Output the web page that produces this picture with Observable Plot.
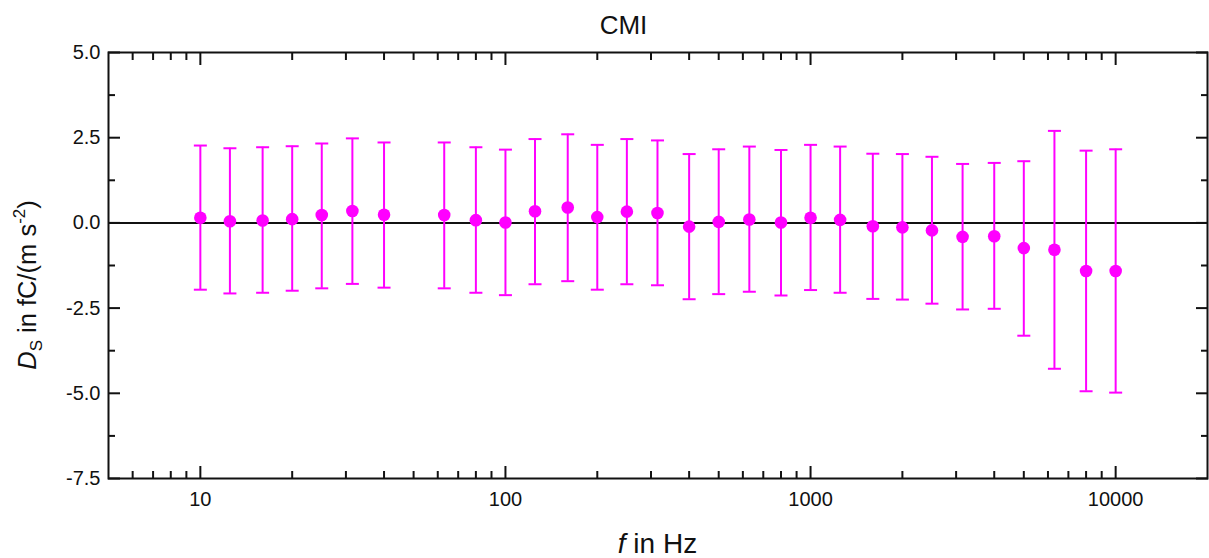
<!DOCTYPE html>
<html>
<head>
<meta charset="utf-8">
<script src="https://cdn.jsdelivr.net/npm/d3@7"></script>
<script src="https://cdn.jsdelivr.net/npm/@observablehq/plot@0.6"></script>
<style>
  body { margin: 0; background: #fff; font-family: "Liberation Sans", Arial, sans-serif; }
  #wrap { width: 1209px; height: 558px; overflow: hidden; background: #fff; }
  #title { box-sizing: border-box; width: 1209px; height: 44px; padding-top: 12px; padding-left: 38px;
           text-align: center; font-size: 26px; line-height: 26px; color: #111; }
  #chart svg { display: block; }
</style>
</head>
<body>
<div id="wrap">
  <div id="title"></div>
  <div id="chart"></div>
</div>
<script>
const titleText = "CMI";
const freq  = [10, 12.5, 16, 20, 25, 31.5, 40, 63, 80, 100, 125, 160, 200, 250, 315, 400, 500, 630, 800,
               1000, 1250, 1600, 2000, 2500, 3150, 4000, 5000, 6300, 8000, 10000];
const value = [0.15, 0.05, 0.07, 0.11, 0.23, 0.35, 0.24, 0.23, 0.08, 0.01, 0.34, 0.45, 0.17, 0.33, 0.29, -0.11, 0.03, 0.10, 0.01,
               0.15, 0.09, -0.10, -0.13, -0.22, -0.41, -0.39, -0.74, -0.79, -1.41, -1.41];
const upper = [2.27, 2.19, 2.22, 2.25, 2.33, 2.48, 2.36, 2.36, 2.22, 2.15, 2.46, 2.60, 2.29, 2.46, 2.42, 2.02, 2.16, 2.24, 2.14,
               2.29, 2.24, 2.03, 2.02, 1.94, 1.73, 1.76, 1.81, 2.70, 2.12, 2.16];
const lower = [-1.96, -2.07, -2.05, -1.99, -1.92, -1.79, -1.90, -1.92, -2.05, -2.12, -1.80, -1.71, -1.96, -1.80, -1.83, -2.24, -2.09, -2.02, -2.13,
               -1.97, -2.05, -2.23, -2.25, -2.37, -2.54, -2.52, -3.31, -4.28, -4.94, -4.98];
const xMajorTicks = [10, 100, 1000, 10000];
const xMinorTicks = [6, 7, 8, 9, 20, 30, 40, 50, 60, 70, 80, 90, 200, 300, 400, 500, 600, 700, 800, 900,
                     2000, 3000, 4000, 5000, 6000, 7000, 8000, 9000];
const yMajorTicks = [-7.5, -5, -2.5, 0, 2.5, 5];
const yMinorTicks = [-6.25, -3.75, -1.25, 1.25, 3.75];
const xDomain = [5, 20000];
const yDomain = [-7.5, 5];
const xTitle = ["f", " in Hz"];
const yTitle = ["D", "S", " in fC/(m s", "-2", ")"];

document.getElementById("title").textContent = titleText;

const data = freq.map((f, i) => ({f, v: value[i], lo: lower[i], hi: upper[i]}));
const mag = "#ff00ff";
const ink = "#111";
const cap = { draw(ctx, size) { const r = Math.sqrt(size / Math.PI); ctx.moveTo(-r, 0); ctx.lineTo(r, 0); } };

const W = 1209, H = 514, mL = 108, mR = 2, mT = 8, mB = 80;

const plot = Plot.plot({
  width: W, height: H,
  marginLeft: mL, marginRight: mR, marginTop: mT, marginBottom: mB,
  style: { fontFamily: '"Liberation Sans", Arial, sans-serif', fontSize: "20px", color: ink, background: "#fff", overflow: "visible" },
  x: { type: "log", domain: xDomain },
  y: { domain: yDomain },
  marks: [
    Plot.ruleY([0], { stroke: ink, strokeWidth: 2 }),
    Plot.ruleX(data, { x: "f", y1: "lo", y2: "hi", stroke: mag, strokeWidth: 2 }),
    Plot.dot(data, { x: "f", y: "hi", symbol: cap, r: 6.5, stroke: mag, strokeWidth: 2 }),
    Plot.dot(data, { x: "f", y: "lo", symbol: cap, r: 6.5, stroke: mag, strokeWidth: 2 }),
    Plot.dot(data, { x: "f", y: "v", r: 6.3, fill: mag, stroke: null }),
    Plot.axisX(xMajorTicks, { anchor: "bottom", tickSize: -12, text: null, label: null, strokeWidth: 2, stroke: ink }),
    Plot.axisX(xMinorTicks, { anchor: "bottom", tickSize: -7, text: null, label: null, strokeWidth: 2, stroke: ink }),
    Plot.axisX(xMajorTicks, { anchor: "top", tickSize: -12, text: null, label: null, strokeWidth: 2, stroke: ink }),
    Plot.axisX(xMinorTicks, { anchor: "top", tickSize: -7, text: null, label: null, strokeWidth: 2, stroke: ink }),
    Plot.axisX(xMajorTicks, { anchor: "bottom", tickSize: 0, tickPadding: 13, label: null, fontSize: 20, fill: ink, tickFormat: d => String(d) }),
    Plot.axisY(yMajorTicks, { anchor: "left", tickSize: -12, text: null, label: null, strokeWidth: 2, stroke: ink }),
    Plot.axisY(yMinorTicks, { anchor: "left", tickSize: -7, text: null, label: null, strokeWidth: 2, stroke: ink }),
    Plot.axisY(yMajorTicks, { anchor: "right", tickSize: -12, text: null, label: null, strokeWidth: 2, stroke: ink }),
    Plot.axisY(yMinorTicks, { anchor: "right", tickSize: -7, text: null, label: null, strokeWidth: 2, stroke: ink }),
    Plot.axisY(yMajorTicks, { anchor: "left", tickSize: 0, tickPadding: 8, label: null, fontSize: 20, fill: ink, tickFormat: d => d.toFixed(1) }),
    Plot.frame({ stroke: ink, strokeWidth: 2 })
  ]
});

const svg = d3.select(plot);
const cx = mL + (W - mL - mR) / 2;
const cy = mT + (H - mT - mB) / 2;

const xt = svg.append("text")
  .attr("x", cx).attr("y", 509)
  .attr("text-anchor", "middle")
  .attr("font-size", 28).attr("fill", ink);
xt.append("tspan").attr("font-style", "italic").text(xTitle[0]);
xt.append("tspan").text(xTitle[1]);

const yt = svg.append("text")
  .attr("transform", `translate(36,${cy + 20}) rotate(-90)`)
  .attr("text-anchor", "middle")
  .attr("font-size", 25.5).attr("fill", ink);
yt.append("tspan").attr("font-style", "italic").text(yTitle[0]);
yt.append("tspan").attr("font-size", 17).attr("dy", 6).text(yTitle[1]);
yt.append("tspan").attr("dy", -6).text(yTitle[2]);
yt.append("tspan").attr("font-size", 17).attr("dy", -11).text(yTitle[3]);
yt.append("tspan").attr("dy", 11).text(yTitle[4]);

document.getElementById("chart").appendChild(plot);
</script>
</body>
</html>
